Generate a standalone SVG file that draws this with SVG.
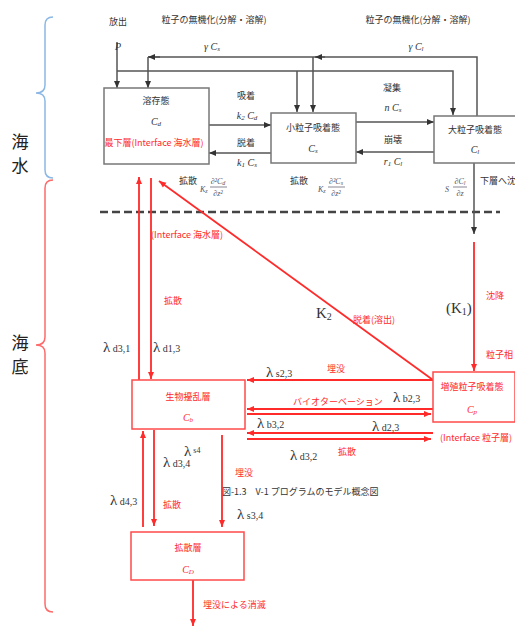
<svg xmlns="http://www.w3.org/2000/svg" width="515" height="629" viewBox="0 0 515 629">
<defs>
<marker id="ab" markerWidth="8" markerHeight="8" refX="7" refY="4" orient="auto" markerUnits="userSpaceOnUse"><path d="M0,1 L7,4 L0,7 Z" fill="#333"/></marker>
<marker id="ar" markerWidth="8" markerHeight="8" refX="7" refY="4" orient="auto" markerUnits="userSpaceOnUse"><path d="M0,1 L7,4 L0,7 Z" fill="#ff2a2a"/></marker>
</defs>
<style>
.jp{font-family:"Noto Sans CJK JP","Noto Sans",sans-serif;font-size:9px;fill:#333}
.jr{font-family:"Noto Sans CJK JP","Noto Sans",sans-serif;font-size:9px;fill:#ff2a2a}
.it{font-family:"Liberation Serif",serif;font-style:italic;font-size:10px;fill:#333}
.lam{font-family:"Liberation Serif",serif;font-size:15px;fill:#333}
.sub{font-size:10px}
.big{font-family:"Noto Sans CJK JP",sans-serif;font-size:17px;fill:#222}
.bx{fill:#fff;stroke:#777;stroke-width:1.5}
.rbx{fill:#fff;stroke:#ff4a4a;stroke-width:1.5}
.bl{fill:none;stroke:#555;stroke-width:1.5}
.rl{fill:none;stroke:#ff2a2a;stroke-width:1.8}
.frm{font-family:"Liberation Serif",serif;font-style:italic;font-size:8px;fill:#556}
</style>
<rect width="515" height="629" fill="#fff"/>

<!-- braces -->
<path d="M53,17 Q45,17 45,25 L45,85 Q45,93 36,93 Q45,93 45,101 L45,170 Q45,178 53,178" fill="none" stroke="#8cb8e6" stroke-width="1.5"/>
<path d="M53,180 Q45,180 45,188 L45,337 Q45,345 36,345 Q45,345 45,353 L45,604 Q45,612 53,612" fill="none" stroke="#ff6a6a" stroke-width="1.5"/>
<text class="big" x="20" y="148" text-anchor="middle">海</text>
<text class="big" x="20" y="172" text-anchor="middle">水</text>
<text class="big" x="20" y="349" text-anchor="middle">海</text>
<text class="big" x="20" y="373" text-anchor="middle">底</text>

<!-- dashed boundary -->
<line x1="100" y1="212" x2="500" y2="212" stroke="#444" stroke-width="2.5" stroke-dasharray="8,4"/>

<g id="connectors">
<!-- top black -->
<path class="bl" d="M117,42 L117,88" marker-end="url(#ab)"/>
<path class="bl" d="M117,71 L453,71 L453,115" marker-end="url(#ab)"/>
<path class="bl" d="M297,71 L297,112" marker-end="url(#ab)"/>
<path class="bl" d="M477,116 L477,57 L148,57" />
<path class="bl" d="M160,57 L148,57" marker-end="url(#ab)"/>
<path class="bl" d="M148,57 L148,88" marker-end="url(#ab)"/>
<path class="bl" d="M325,57 L315,57" marker-end="url(#ab)"/>
<path class="bl" d="M313,57 L313,112" marker-end="url(#ab)"/>
<path class="bl" d="M209,125 L271,125" marker-end="url(#ab)"/>
<path class="bl" d="M271,153 L209,153" marker-end="url(#ab)"/>
<path class="bl" d="M356,122 L434,122" marker-end="url(#ab)"/>
<path class="bl" d="M434,152 L356,152" marker-end="url(#ab)"/>
<path class="bl" d="M474,163 L474,234" marker-end="url(#ab)"/>
<!-- red -->
<path class="rl" d="M139,380 L139,177" marker-end="url(#ar)"/>
<path class="rl" d="M151,178 L151,379" marker-end="url(#ar)"/>
<path class="rl" d="M433,380 L159,181" marker-end="url(#ar)"/>
<path class="rl" d="M474,242 L474,371" marker-end="url(#ar)"/>
<path class="rl" d="M433,380 L247,380" marker-end="url(#ar)"/>
<path class="rl" d="M433,409 L247,409" marker-end="url(#ar)"/>
<path class="rl" d="M247,414 L431,414" marker-end="url(#ar)"/>
<path class="rl" d="M433,433 L247,433" marker-end="url(#ar)"/>
<path class="rl" d="M247,439 L431,439" marker-end="url(#ar)"/>
<path class="rl" d="M143,527 L143,431" marker-end="url(#ar)"/>
<path class="rl" d="M154,430 L154,526" marker-end="url(#ar)"/>
<path class="rl" d="M222,435 L222,527" marker-end="url(#ar)"/>
<path class="rl" d="M193,580 L193,626" marker-end="url(#ar)"/>
</g>

<!-- nodes -->
<g id="dissolved">
<rect class="bx" x="104" y="88" width="105" height="76"/>
<text class="jp" x="156" y="104" text-anchor="middle">溶存態</text>
<text class="it" x="156" y="125" text-anchor="middle">C<tspan font-size="7" dy="1">d</tspan></text>
<text class="jr" x="154" y="146" text-anchor="middle">最下層(Interface 海水層)</text>
</g>
<g id="small">
<rect class="bx" x="271" y="113" width="85" height="50"/>
<text class="jp" x="313" y="131" text-anchor="middle">小粒子吸着態</text>
<text class="it" x="313" y="152" text-anchor="middle">C<tspan font-size="7" dy="1">s</tspan></text>
</g>
<g id="large">
<rect class="bx" x="434" y="116" width="90" height="47"/>
<text class="jp" x="475" y="133" text-anchor="middle">大粒子吸着態</text>
<text class="it" x="475" y="153" text-anchor="middle">C<tspan font-size="7" dy="1">l</tspan></text>
</g>
<g id="bio">
<rect class="rbx" x="132" y="380" width="113" height="49"/>
<text class="jr" x="188" y="400" text-anchor="middle">生物擾乱層</text>
<text class="it" x="188" y="421" text-anchor="middle" style="fill:#ff2a2a">C<tspan font-size="7" dy="1">b</tspan></text>
</g>
<g id="growth">
<rect class="rbx" x="433" y="372" width="82" height="50"/>
<text class="jr" x="472" y="390" text-anchor="middle">増殖粒子吸着態</text>
<text class="it" x="472" y="413" text-anchor="middle" style="fill:#ff2a2a">C<tspan font-size="7" dy="1">p</tspan></text>
</g>
<g id="diffusion">
<rect class="rbx" x="131" y="532" width="113" height="48"/>
<text class="jr" x="188" y="551" text-anchor="middle">拡散層</text>
<text class="it" x="188" y="573" text-anchor="middle" style="fill:#ff2a2a">C<tspan font-size="7" dy="1">D</tspan></text>
</g>

<!-- top labels -->
<text class="jp" x="118" y="25" text-anchor="middle">放出</text>
<text class="it" x="118" y="50" text-anchor="middle" font-size="11">P</text>
<text class="jp" x="214" y="23" text-anchor="middle">粒子の無機化(分解・溶解)</text>
<text class="it" x="212" y="50" text-anchor="middle">γ C<tspan font-size="7" dy="1">s</tspan></text>
<text class="jp" x="418" y="23" text-anchor="middle">粒子の無機化(分解・溶解)</text>
<text class="it" x="416" y="50" text-anchor="middle">γ C<tspan font-size="7" dy="1">l</tspan></text>
<text class="jp" x="246" y="99" text-anchor="middle">吸着</text>
<text class="it" x="247" y="119" text-anchor="middle">k<tspan font-size="7" dy="1">2</tspan><tspan dy="-1"> C</tspan><tspan font-size="7" dy="1">d</tspan></text>
<text class="jp" x="246" y="146" text-anchor="middle">脱着</text>
<text class="it" x="247" y="166" text-anchor="middle">k<tspan font-size="7" dy="1">1</tspan><tspan dy="-1"> C</tspan><tspan font-size="7" dy="1">s</tspan></text>
<text class="jp" x="392" y="91" text-anchor="middle">凝集</text>
<text class="it" x="393" y="111" text-anchor="middle">n C<tspan font-size="7" dy="1">s</tspan></text>
<text class="jp" x="393" y="143" text-anchor="middle">崩壊</text>
<text class="it" x="393" y="165" text-anchor="middle">r<tspan font-size="7" dy="1">1</tspan><tspan dy="-1"> C</tspan><tspan font-size="7" dy="1">l</tspan></text>

<text class="jp" x="188" y="184" text-anchor="middle">拡散</text>
<text class="frm" x="200" y="192">K<tspan font-size="6" dy="1">z</tspan></text>
<text class="frm" x="218" y="184" text-anchor="middle">∂²C<tspan font-size="6" dy="1">d</tspan></text>
<line x1="210" y1="187" x2="227" y2="187" stroke="#556" stroke-width="0.7"/>
<text class="frm" x="218" y="196" text-anchor="middle">∂z²</text>

<text class="jp" x="299" y="184" text-anchor="middle">拡散</text>
<text class="frm" x="318" y="192">K<tspan font-size="6" dy="1">z</tspan></text>
<text class="frm" x="336" y="184" text-anchor="middle">∂²C<tspan font-size="6" dy="1">s</tspan></text>
<line x1="328" y1="187" x2="345" y2="187" stroke="#556" stroke-width="0.7"/>
<text class="frm" x="336" y="196" text-anchor="middle">∂z²</text>

<text class="frm" x="445" y="192">S</text>
<text class="frm" x="460" y="184" text-anchor="middle">∂C<tspan font-size="6" dy="1">l</tspan></text>
<line x1="453" y1="187" x2="467" y2="187" stroke="#556" stroke-width="0.7"/>
<text class="frm" x="460" y="196" text-anchor="middle">∂z</text>
<text class="jp" x="480" y="184" font-size="8.5">下層へ沈</text>

<!-- seabed labels -->
<text class="jr" x="151" y="238">(Interface 海水層)</text>
<text class="jr" x="164" y="304">拡散</text>
<text class="lam" x="103" y="352">λ<tspan class="sub"> d3,1</tspan></text>
<text class="lam" x="153" y="352">λ<tspan class="sub"> d1,3</tspan></text>
<text class="lam" x="316" y="318">K<tspan font-size="10" dy="2">2</tspan></text>
<text class="jr" x="353" y="323">脱着(溶出)</text>
<text class="lam" x="446" y="313">(K<tspan font-size="10" dy="2">1</tspan><tspan dy="-2">)</tspan></text>
<text class="jr" x="486" y="299">沈降</text>
<text class="jr" x="486" y="358">粒子相</text>

<text class="lam" x="266" y="377">λ<tspan class="sub"> s2,3</tspan></text>
<text class="jr" x="327" y="372">埋没</text>
<text class="jr" x="293" y="405">バイオターベーション</text>
<text class="lam" x="393" y="402">λ<tspan class="sub"> b2,3</tspan></text>
<text class="lam" x="257" y="428">λ<tspan class="sub"> b3,2</tspan></text>
<text class="lam" x="372" y="431">λ<tspan class="sub"> d2,3</tspan></text>
<text class="jr" x="440" y="441">(Interface 粒子層)</text>
<text class="lam" x="290" y="460">λ<tspan class="sub"> d3,2</tspan></text>
<text class="jr" x="338" y="455">拡散</text>

<text class="lam" x="163" y="467">λ<tspan class="sub"> d3,4</tspan></text>
<text class="lam" x="184" y="456">λ<tspan font-size="8" dy="-3"> s4</tspan></text>
<text class="jr" x="235" y="476">埋没</text>
<text class="jp" x="222" y="495" font-size="9.5">図-1.3　V-1 プログラムのモデル概念図</text>
<text class="lam" x="110" y="505">λ<tspan class="sub"> d4,3</tspan></text>
<text class="jr" x="163" y="508">拡散</text>
<text class="lam" x="237" y="519">λ<tspan class="sub"> s3,4</tspan></text>
<text class="jr" x="203" y="608">埋没による消滅</text>
</svg>
